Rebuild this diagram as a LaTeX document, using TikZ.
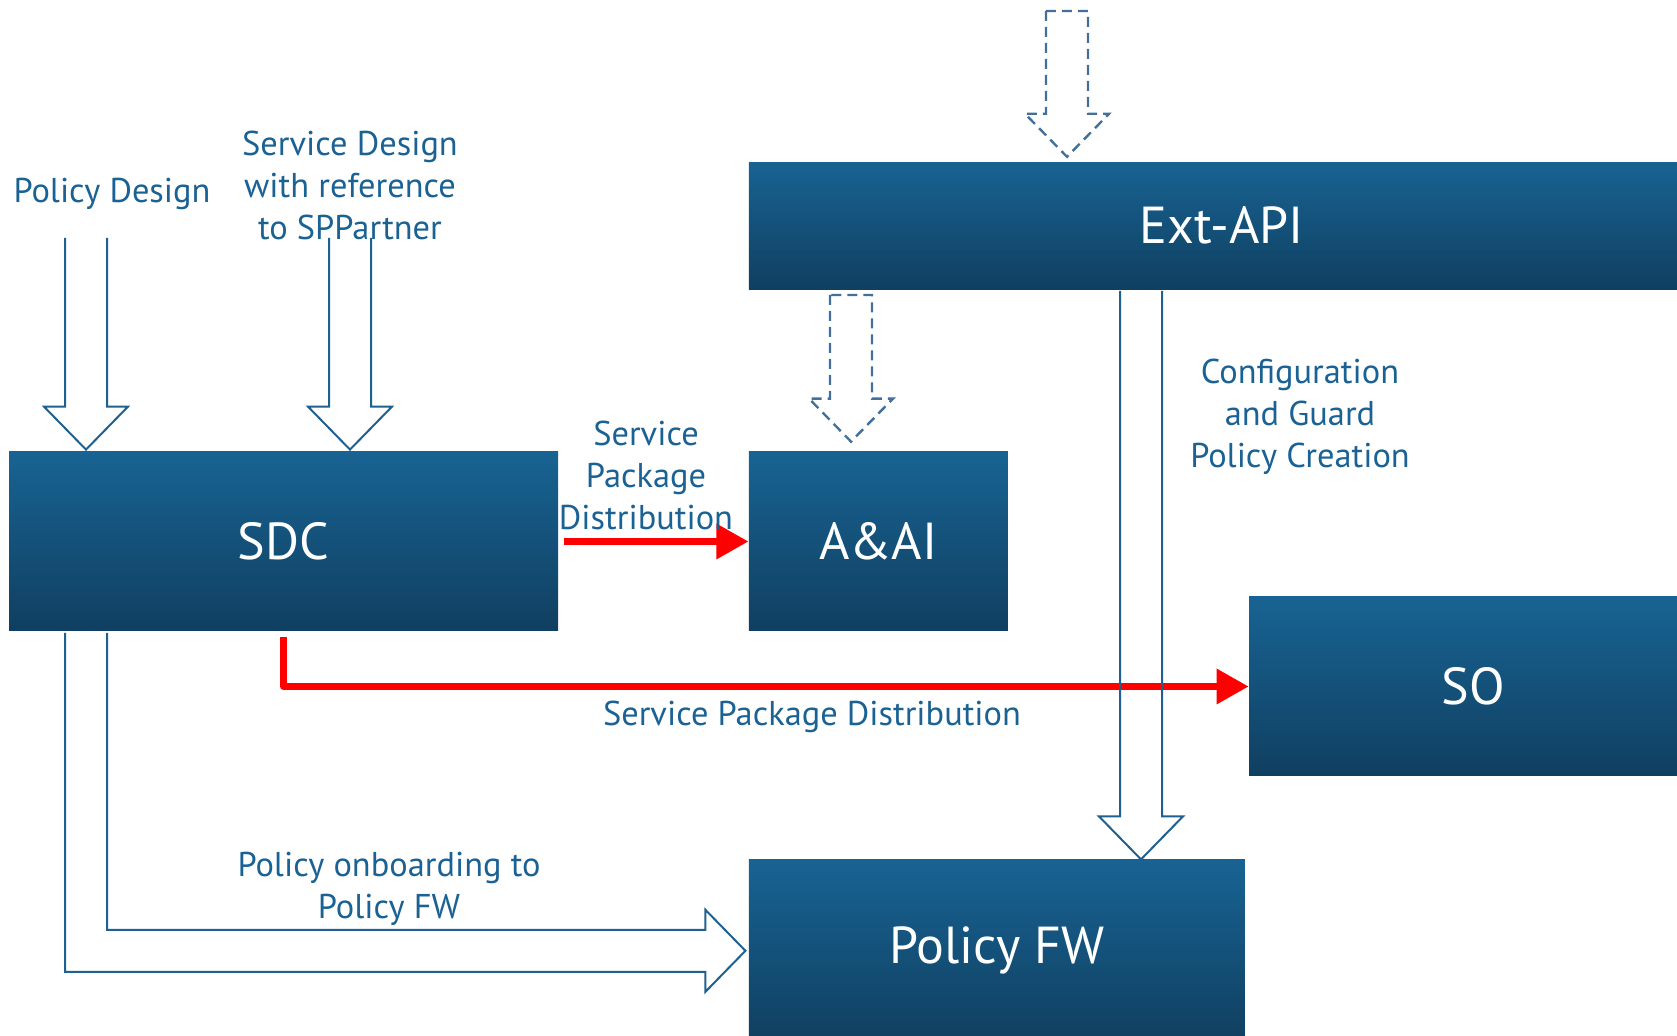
\documentclass[tikz,border=0pt]{standalone}
\usepackage{fontspec}
\setmainfont{PT Sans}
\usetikzlibrary{positioning,calc,arrows.meta}
\definecolor{boxtop}{RGB}{24,99,147}
\definecolor{boxbot}{RGB}{16,63,96}
\definecolor{lbl}{RGB}{27,98,148}
\definecolor{arrowblue}{RGB}{30,96,143}
\definecolor{dashblue}{RGB}{66,112,155}
% hollow block arrow pointing down: [options]{top}{tip}{end of path}
\newcommand{\blockdown}[4][]{%
  \draw[#1] ($(#2)+(-21,0)$) -- ($(#3)+(-21,-43)$) -- ($(#3)+(-42,-43)$) -- (#3)
    -- ($(#3)+(42,-43)$) -- ($(#3)+(21,-43)$) -- ($(#2)+(21,0)$) #4;}
\begin{document}
\begin{tikzpicture}[x=0.5pt,y=-0.5pt,
       block/.style={rectangle,inner sep=0pt,top color=boxtop,bottom color=boxbot,
         text=white,font=\fontsize{26}{30}\selectfont},
       annot/.style={text=lbl,align=center,inner sep=0pt,font=\fontsize{17.2}{21}\selectfont}]

    \tikzstyle{hollow}=[draw=arrowblue,line width=1pt]
    \tikzstyle{dashedhollow}=[draw=dashblue,line width=1.2pt,dash pattern=on 5pt off 3pt]
    \tikzstyle{dist}=[draw=red,line width=3.4pt,line join=round,-{Triangle[length=16pt,width=17pt]}]

    \useasboundingbox (0,0) rectangle (1677,1036);
    \clip (0,0) rectangle (1677,1036);

    \node[block,minimum width=274.5pt,minimum height=89.5pt] (sdc) at (283.5,541.5) {SDC};
    \node[block,minimum width=129.5pt,minimum height=89.5pt,right=95pt of sdc] (aai) {A\&AI};
    \node[block,minimum width=473pt,minimum height=63.5pt,above right=81pt and 0pt of aai.north west] (extapi) {Ext-API};
    \node[block,minimum width=224pt,minimum height=89.5pt] (so) at (1473,686.5) {SO};
    \node[block,minimum width=248pt,minimum height=91pt,below right=114pt and 0pt of aai.south west] (pfw) {Policy FW};

    \draw[dist] ([xshift=3pt]sdc.east) -- (aai.west);
    \draw[dist] ([yshift=-3pt]sdc.south) |- (so.west);

    \coordinate (pdtop) at (86,238);
    \coordinate (sdtop) at (350,238);
    \coordinate (d1top) at (1067,11);
    \coordinate (d2top) at (851,295);
    \coordinate (cfgtop) at (1141,291);
    \coordinate[yshift=1pt] (pdtip) at (pdtop |- sdc.north);
    \coordinate[yshift=1pt] (sdtip) at (sdtop |- sdc.north);
    \coordinate[yshift=2.5pt] (d1tip) at (d1top |- extapi.north);
    \coordinate[yshift=5pt] (d2tip) at (d2top |- aai.north);
    \coordinate (cfgtip) at (cfgtop |- pfw.north);

    \blockdown[hollow]{pdtop}{pdtip}{}
    \blockdown[hollow]{sdtop}{sdtip}{}
    \blockdown[hollow]{cfgtop}{cfgtip}{}
    \blockdown[dashedhollow]{d1top}{d1tip}{-- cycle}
    \blockdown[dashedhollow]{d2top}{d2tip}{-- cycle}

    \coordinate (onbout) at (65,633);
    \coordinate (onbin) at (107,633);
    \coordinate[xshift=-1.5pt] (onbtip) at (pfw.west);
    \draw[hollow] (onbout) |- ($(onbtip)+(-40,21)$) -- ($(onbtip)+(-40,41)$) -- (onbtip)
      -- ($(onbtip)+(-40,-41)$) -- ($(onbtip)+(-40,-21)$) -| (onbin);

    \node[annot] (pdlbl) at (112,194) {Policy Design};
    \node[annot] (sdlbl) at (350,185) {Service Design\\with reference\\to SPPartner};
    \node[annot] (spd1) at (646,475) {Service\\Package\\Distribution};
    \node[annot] (cfg) at (1300,417) {Configuration\\and Guard\\Policy Creation};
    \node[annot] (spd2) at (812,717) {Service Package Distribution};
    \node[annot] (onb) at (389,889) {Policy onboarding to\\Policy FW};

\end{tikzpicture}
\end{document}
